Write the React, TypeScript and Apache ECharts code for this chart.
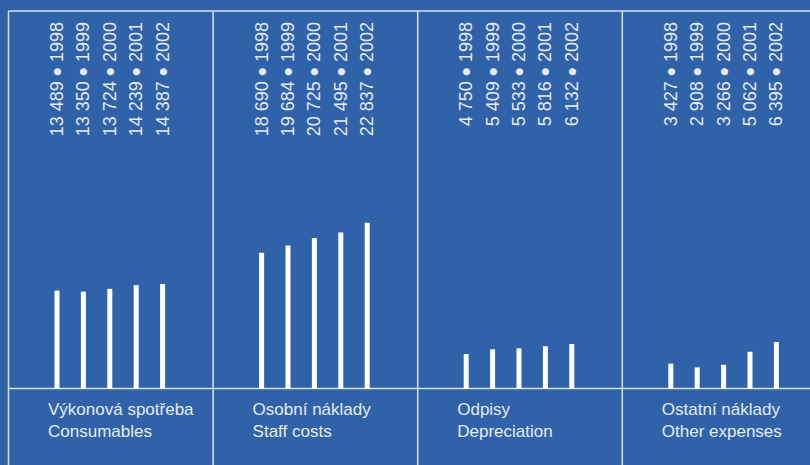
import React, { useEffect, useRef } from "react";
import * as echarts from "echarts";

const years = ["1998", "1999", "2000", "2001", "2002"];
const consumables = [13489, 13350, 13724, 14239, 14387];
const staffCosts = [18690, 19684, 20725, 21495, 22837];
const depreciation = [4750, 5409, 5533, 5816, 6132];
const otherExpenses = [3427, 2908, 3266, 5062, 6395];
const titlesCz = ["Výkonová spotřeba", "Osobní náklady", "Odpisy", "Ostatní náklady"];
const titlesEn = ["Consumables", "Staff costs", "Depreciation", "Other expenses"];

const panels = [consumables, staffCosts, depreciation, otherExpenses];

const BG = "#2f62a9";
const LINE = "#d9e1ee";
const TEXT = "#e6ebf4";
const FONT = "'Liberation Sans', Arial, Helvetica, sans-serif";

const W = 810;
const H = 465;
const PANEL_LEFT = 8.5;
const PANEL_STEP = 204.6;
const TOP = 11;
const BASE = 388.5;
const GRID_OFFSET = 35.3;
const GRID_WIDTH = 132;
const Y_MAX = 52000;

const fmt = (v: number) => String(v).replace(/\B(?=(\d{3})+(?!\d))/g, " ");

export default function App() {
  const ref = useRef<HTMLDivElement>(null);

  useEffect(() => {
    if (!ref.current) return;
    const chart = echarts.init(ref.current, null, { renderer: "svg" });

    const grid: any[] = [];
    const xAxis: any[] = [];
    const yAxis: any[] = [];
    const series: any[] = [];
    const graphic: any[] = [];

    panels.forEach((vals, i) => {
      const pl = PANEL_LEFT + i * PANEL_STEP;
      grid.push({
        left: pl + GRID_OFFSET,
        width: GRID_WIDTH,
        top: TOP,
        height: BASE - TOP,
        containLabel: false,
      });
      xAxis.push({
        type: "category",
        gridIndex: i,
        position: "top",
        data: years,
        axisLine: { show: false },
        axisTick: { show: false },
        splitLine: { show: false },
        axisLabel: {
          show: true,
          inside: true,
          margin: 11,
          rotate: 90,
          align: "right",
          verticalAlign: "middle",
          interval: 0,
          color: TEXT,
          fontSize: 18,
          fontFamily: FONT,
          formatter: (val: string, idx: number) => `${fmt(vals[idx])} {b|\u2022} ${val}`,
          rich: {
            b: { fontSize: 26, color: TEXT, fontFamily: FONT, verticalAlign: "middle" },
          },
        },
      });
      yAxis.push({
        type: "value",
        gridIndex: i,
        min: 0,
        max: Y_MAX,
        show: false,
      });
      series.push({
        type: "bar",
        xAxisIndex: i,
        yAxisIndex: i,
        data: vals,
        barWidth: 5,
        itemStyle: { color: "#ffffff" },
        silent: true,
      });

      graphic.push({
        type: "line",
        shape: { x1: pl, y1: TOP, x2: pl, y2: H },
        style: { stroke: LINE, lineWidth: 1.5 },
        silent: true,
      });
      graphic.push({
        type: "text",
        x: pl + 39.5,
        y: 409,
        style: {
          text: titlesCz[i],
          fill: TEXT,
          font: `17px ${FONT}`,
          verticalAlign: "middle",
          align: "left",
        },
        silent: true,
      });
      graphic.push({
        type: "text",
        x: pl + 39.5,
        y: 431,
        style: {
          text: titlesEn[i],
          fill: TEXT,
          font: `17px ${FONT}`,
          verticalAlign: "middle",
          align: "left",
        },
        silent: true,
      });
    });

    graphic.push({
      type: "line",
      shape: { x1: PANEL_LEFT, y1: TOP, x2: W, y2: TOP },
      style: { stroke: LINE, lineWidth: 1.5 },
      silent: true,
    });
    graphic.push({
      type: "line",
      shape: { x1: PANEL_LEFT, y1: BASE, x2: W, y2: BASE },
      style: { stroke: LINE, lineWidth: 1.5 },
      silent: true,
    });

    chart.setOption({
      animation: false,
      backgroundColor: BG,
      grid,
      xAxis,
      yAxis,
      series,
      graphic,
    });

    return () => chart.dispose();
  }, []);

  return (
    <div
      ref={ref}
      style={{ position: "fixed", left: 0, top: 0, width: W, height: H }}
    />
  );
}
